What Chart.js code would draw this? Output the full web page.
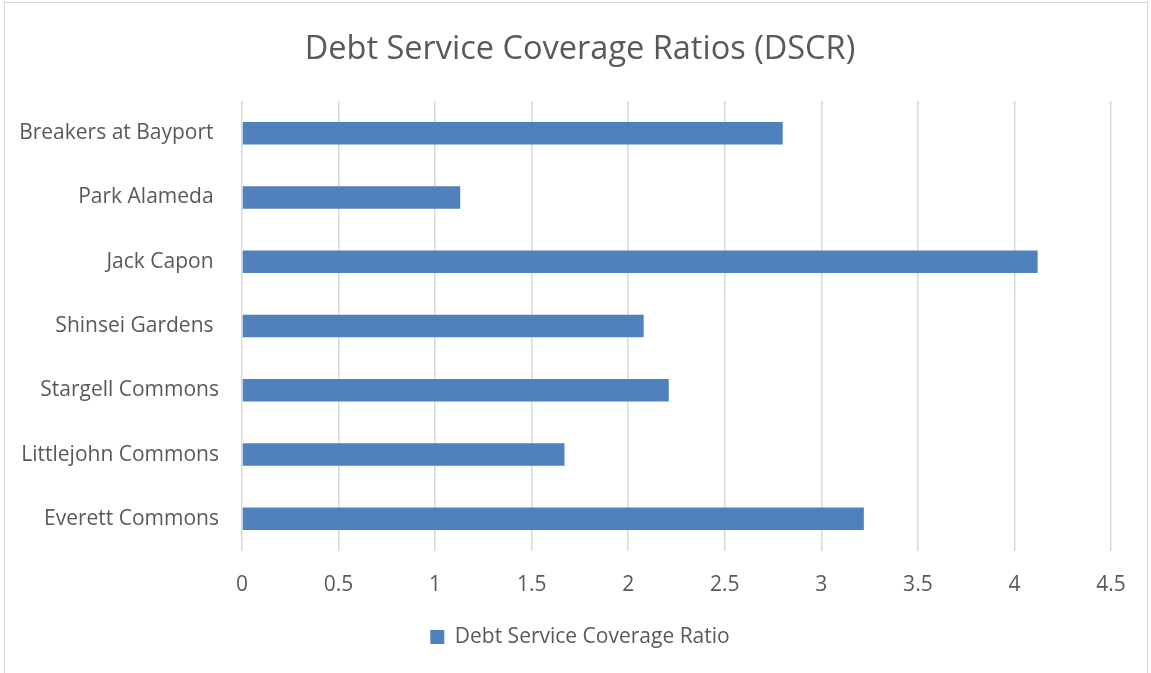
<!DOCTYPE html>
<html>
<head>
<meta charset="utf-8">
<script src="https://cdn.jsdelivr.net/npm/chart.js@4/dist/chart.umd.min.js"></script>
<style>
  body { margin: 0; background: #fff; }
  #wrap { position: relative; width: 1151px; height: 673px; overflow: hidden; }
  #frame { position: absolute; left: 4px; top: 2px; width: 1142px; height: 700px; border: 1px solid #d9d9d9; pointer-events: none; }
</style>
</head>
<body>
<div id="wrap">
  <canvas id="myChart" width="1151" height="673"></canvas>
  <div id="frame"></div>
</div>
<script>
// trailing spaces kept as in the source sheet
const properties = ['Breakers at Bayport ', 'Park Alameda ', 'Jack Capon ', 'Shinsei Gardens ', 'Stargell Commons', 'Littlejohn Commons', 'Everett Commons'];
const dscrValues = [2.80, 1.13, 4.12, 2.08, 2.21, 1.67, 3.22];
const seriesName = 'Debt Service Coverage Ratio';
const chartTitle = 'Debt Service Coverage Ratios (DSCR)';
const xMin = 0, xMax = 4.5, xStep = 0.5;

const textColor = '#595959';
const font = 'Open Sans';

let ctx = document.getElementById('myChart').getContext('2d');
const config = {
    type: 'bar',
    data: {
        labels: properties,
        datasets: [{
            label: seriesName,
            data: dscrValues,
            backgroundColor: '#4f81bd',
            borderWidth: 0,
            categoryPercentage: 1,
            barPercentage: 0.35,
        }]
    },
    options: {
        indexAxis: 'y',
        responsive: false,
        animation: false,
        layout: { padding: { left: 9, right: 0, top: 0, bottom: 15.5 } },
        plugins: {
            title: {
                display: true,
                text: chartTitle,
                color: textColor,
                font: { family: font, size: 32.5, weight: 'normal' },
                padding: { top: 30.5, bottom: 31.5 }
            },
            legend: {
                position: 'bottom',
                labels: {
                    color: textColor,
                    font: { family: font, size: 21 },
                    boxWidth: 14,
                    boxHeight: 14,
                    padding: 10
                }
            },
            tooltip: { enabled: false }
        },
        scales: {
            x: {
                min: xMin,
                max: xMax,
                ticks: {
                    stepSize: xStep,
                    color: textColor,
                    font: { family: font, size: 21 },
                    padding: 21,
                    callback: (v) => String(v)
                },
                grid: { color: '#d9d9d9', lineWidth: 1.5, drawTicks: false },
                border: { display: false },
                afterFit: (scale) => { scale.height = 65.5; }
            },
            y: {
                ticks: {
                    color: textColor,
                    font: { family: font, size: 21 },
                    padding: 23
                },
                grid: { display: false, drawTicks: false },
                border: { display: false },
                afterFit: (scale) => { scale.width = 233; }
            },
            // empty right-hand axis, only there to leave the margin on the right
            yRight: {
                type: 'category',
                position: 'right',
                labels: properties,
                ticks: { display: false },
                grid: { display: false, drawTicks: false },
                border: { display: false },
                afterFit: (scale) => { scale.width = 40; }
            }
        }
    }
};
let myChart = new Chart(ctx, config);
</script>
</body>
</html>
